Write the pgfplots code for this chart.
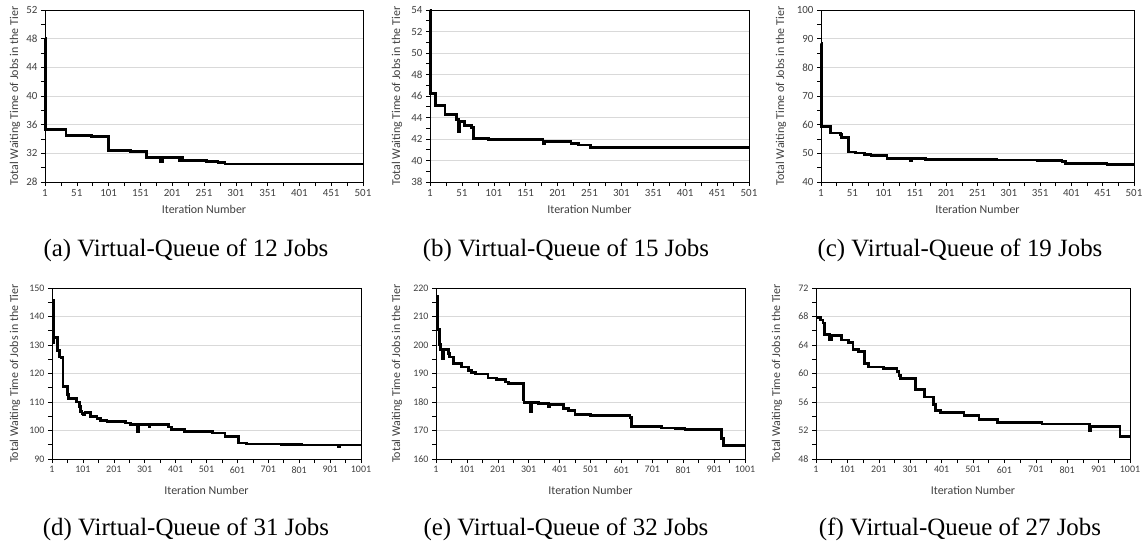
\documentclass[border=0pt]{standalone}
\usepackage{fontspec}
\setmainfont{Carlito}
\newfontfamily\capfont{Liberation Serif}
\usepackage{pgfplots}
\pgfplotsset{compat=1.18}
\definecolor{gridc}{HTML}{D9D9D9}
\definecolor{tickc}{HTML}{404040}
\pgfplotsset{
  panel/.style={
    scale only axis, anchor=south west, clip=false,
    ymajorgrids, grid style={gridc, line width=0.8bp},
    axis line style={black, line width=0.75bp},
    tick style={black, line width=0.6bp},
    tick align=outside, major tick length=4bp, minor tick length=4bp,
    minor x tick num=1, minor y tick num=1, tick pos=left,
    /pgf/number format/assume math mode=true,
    /pgf/number format/1000 sep={},
    xlabel={Iteration Number}, ylabel={Total Waiting Time of Jobs in the Tier},
    label style={font=\fontsize{12}{14}\selectfont, text=tickc},
    tick label style={text=tickc},
  },
  toprow/.style={panel, xmin=1, xmax=501, xtick={1,51,...,501},
    tick label style={font=\fontsize{11}{13}\selectfont},
    xlabel style={at={([yshift=-27bp]axis description cs:0.5,0)}, anchor=center},
  },
  botrow/.style={panel, xmin=1, xmax=1001, xtick={1,101,...,1001},
    tick label style={font=\fontsize{10}{12}\selectfont},
    xlabel style={at={([yshift=-31bp]axis description cs:0.5,0)}, anchor=center},
  },
  dataline/.style={black, line width=2.8bp, const plot mark left, line join=miter},
}
\begin{document}
\begin{tikzpicture}
\useasboundingbox (0,0) rectangle (1146bp,-551bp);
% (a)
\begin{axis}[toprow, at={(45bp,-182bp)}, width=318bp, height=172bp,
  ymin=28, ymax=52, ytick={28,32,...,52},
  ylabel style={at={([xshift=-30bp]axis description cs:0,0.5)}, anchor=center}]
\addplot[dataline] coordinates {(1,48) (2,35.3) (34,34.5) (74,34.3) (101,32.35) (136,32.25) (161,31.45) (183,30.9) (186,31.45) (213,30.95) (216,31.4) (218,31.0) (255,30.9) (273,30.7) (284,30.5) (501,30.5)};
\end{axis}
% (b)
\begin{axis}[toprow, at={(430bp,-182bp)}, width=319bp, height=172bp,
  ymin=38, ymax=54, ytick={38,40,...,54},
  ylabel style={at={([xshift=-33bp]axis description cs:0,0.5)}, anchor=center}]
\addplot[dataline] coordinates {(1,54) (1.5,50.8) (2,46.2) (9,45.1) (24.6,44.3) (43,43.8) (46,42.7) (47,43.6) (55,43.25) (65.5,43.05) (69,42.05) (92.6,41.95) (178,41.6) (180,41.75) (222,41.55) (234,41.45) (252,41.2) (501,41.2)};
\end{axis}
% (c)
\begin{axis}[toprow, at={(821bp,-182bp)}, width=313bp, height=172bp,
  ymin=40, ymax=100, ytick={40,50,...,100},
  ylabel style={at={([xshift=-40bp]axis description cs:0,0.5)}, anchor=center}]
\addplot[dataline] coordinates {(1,88.4) (2,59.5) (16,57.1) (32,56.6) (34,55.6) (45,50.5) (56,50.1) (70,49.6) (81,49.3) (106.5,48.2) (144,47.6) (146,48.1) (168,47.9) (282,47.7) (346,47.5) (386,47.2) (391.5,46.5) (458,46.2) (501,46.2)};
\end{axis}
% (d)
\begin{axis}[botrow, at={(52bp,-459bp)}, width=309bp, height=171bp,
  ymin=90, ymax=150, ytick={90,100,...,150},
  ylabel style={at={([xshift=-37bp]axis description cs:0,0.5)}, anchor=center}]
\addplot[dataline] coordinates {(1,145.5) (6,131) (7,132.7) (19,128) (25,125.8) (31,125.5) (36.5,115.5) (52,112.5) (55,111.3) (80,110.0) (90,108.5) (93,106.7) (98,106) (103,105.6) (108,106.2) (125,105) (146.5,104.2) (157,103.5) (179,103.2) (195,103.3) (238,102.6) (254,102.2) (278,99.7) (282,102.2) (315,101.5) (318,102.2) (378,101.2) (389,100.3) (429,99.7) (521.5,99.1) (561,98) (604,95.6) (631,95.3) (744,95.1) (809,94.9) (929,94.2) (933,94.9) (1001,94.9)};
\end{axis}
% (e)
\begin{axis}[botrow, at={(436bp,-459bp)}, width=309bp, height=171bp,
  ymin=160, ymax=220, ytick={160,170,...,220},
  ylabel style={at={([xshift=-39bp]axis description cs:0,0.5)}, anchor=center}]
\addplot[dataline] coordinates {(1,217) (5,205.4) (13,200.1) (16,198.4) (21,195.3) (24,198.3) (42,197) (45,195.8) (58,193.5) (83,192.3) (106,191) (117,190.3) (130,189.8) (169,188.4) (198,187.8) (225,187) (236,186.6) (283,181) (286,179.9) (308,176.5) (311,179.9) (333,179.5) (365,178.5) (368,179.2) (376,179) (413,177.8) (430,177) (451,175.7) (500,175.2) (629,174.5) (634,171.5) (731,170.9) (775,170.6) (807,170.3) (926,167.2) (932,164.6) (1001,164.6)};
\end{axis}
% (f)
\begin{axis}[botrow, at={(816bp,-459bp)}, width=314bp, height=171bp,
  ymin=48, ymax=72, ytick={48,52,...,72},
  ylabel style={at={([xshift=-39bp]axis description cs:0,0.5)}, anchor=center}]
\addplot[dataline] coordinates {(1,67.9) (15,67.5) (23,67.1) (29,65.5) (45,64.7) (50,65.3) (81,64.7) (105,64.3) (119,63.4) (137,63.1) (156,61.4) (169,60.9) (215,60.7) (259,60.3) (265,59.7) (270,59.3) (318,57.8) (347,56.7) (376,55.6) (381,54.8) (397,54.5) (472,54.1) (520,53.5) (578,53.1) (721,52.9) (873,52.0) (876,52.6) (969,51.2) (1001,51.2)};
\end{axis}
% captions
\begin{scope}[every node/.style={font=\capfont\fontsize{25}{29}\selectfont, anchor=base}]
\node at (186bp,-256bp) {(a) Virtual-Queue of 12 Jobs};
\node at (566bp,-256bp) {(b) Virtual-Queue of 15 Jobs};
\node at (960bp,-256bp) {(c) Virtual-Queue of 19 Jobs};
\node at (186bp,-535bp) {(d) Virtual-Queue of 31 Jobs};
\node at (566bp,-535bp) {(e) Virtual-Queue of 32 Jobs};
\node at (960bp,-535bp) {(f) Virtual-Queue of 27 Jobs};
\end{scope}
\end{tikzpicture}
\end{document}
